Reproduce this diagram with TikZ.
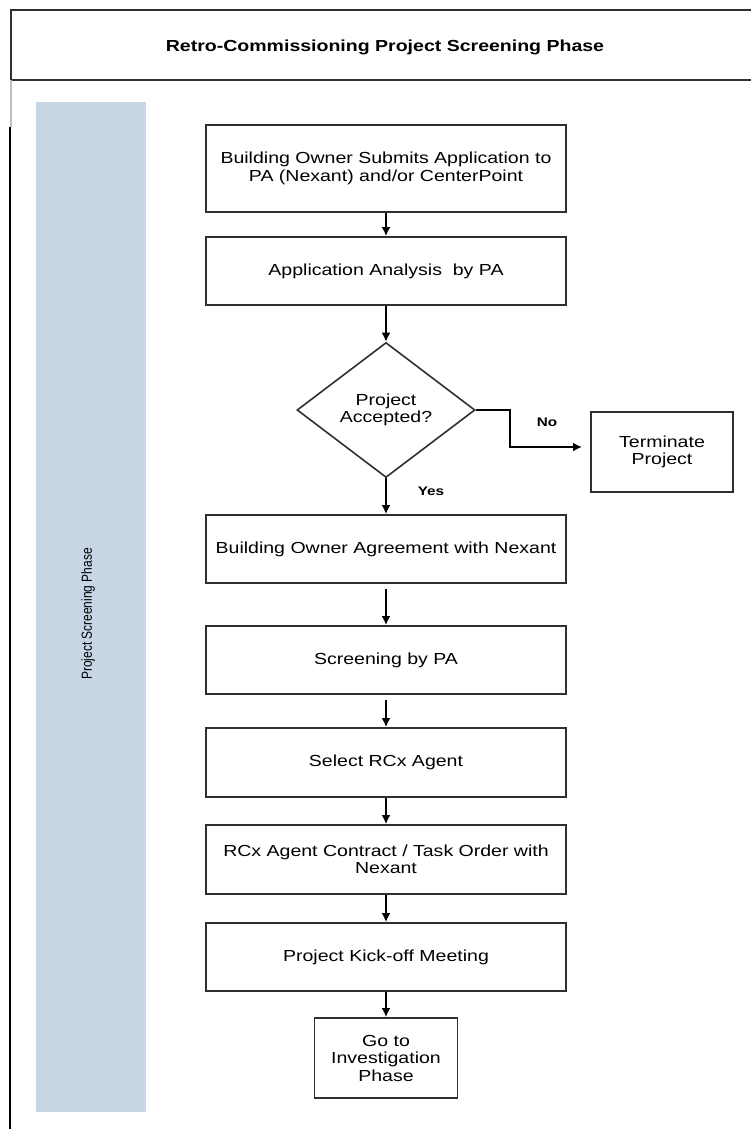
\documentclass[tikz,border=0pt]{standalone}
\usepackage{fontspec}
\setmainfont{Liberation Sans}[FakeStretch=1.22]
\newfontfamily\lanefont{Liberation Sans}[FakeStretch=0.82]
\usepackage{xcolor}
\usetikzlibrary{shapes.geometric,arrows.meta}
\definecolor{lanefill}{HTML}{C8D5E5}
\definecolor{linegray}{HTML}{303030}

\tikzset{
  stepbox/.style={draw=linegray, line width=1.8pt, minimum width=360pt, inner sep=2pt,
    align=center, font=\fontsize{16}{17.5}\selectfont},
  decision/.style={diamond, draw=linegray, line width=1.6pt, minimum width=178pt,
    minimum height=135pt, inner sep=0pt, align=center, font=\fontsize{16}{17.5}\selectfont},
  flow/.style={draw=black, line width=1.8pt, -{Latex[length=9pt,width=9pt]}},
  lbl/.style={font=\bfseries\fontsize{12.5}{14}\selectfont},
}

\begin{document}
\begin{tikzpicture}[x=1pt, y=-1pt]
  \useasboundingbox (0,0) rectangle (751,1129);
  % title strip and left border
  \draw[linegray, line width=1.8pt] (760,10) -- (11,10) -- (11,80) -- (760,80);
  \draw[gray!50, line width=1.8pt] (11,80) -- (11,127);
  \draw[black, line width=1.8pt] (10,127) -- (10,1135);
  \node[font=\bfseries\fontsize{16}{17}\selectfont] (title) at (385,47)
    {Retro-Commissioning Project Screening Phase};

  % swim lane
  \fill[lanefill] (36,102) rectangle (146,1112);
  \node[rotate=90, font=\lanefont\fontsize{14.6}{16}\selectfont] (lanelbl) at (88,614)
    {Project Screening Phase};

  % steps
  \node[stepbox, minimum height=87pt] (submit) at (386,168.5)
    {Building Owner Submits Application to\\PA (Nexant) and/or CenterPoint};
  \node[stepbox, minimum height=68pt] (analysis) at (386,271) {Application Analysis\ \ by PA};
  \node[decision] (accept) at (386,410) {Project\\Accepted?};
  \node[stepbox, minimum width=142pt, minimum height=80pt] (stop) at (662,452) {Terminate\\Project};
  \node[stepbox, minimum height=68pt] (agree) at (386,549) {Building Owner Agreement with Nexant};
  \node[stepbox, minimum height=68pt] (screen) at (386,660) {Screening by PA};
  \node[stepbox, minimum height=69pt] (select) at (386,762.5) {Select RCx Agent};
  \node[stepbox, minimum height=69pt] (contract) at (386,859.5)
    {RCx Agent Contract / Task Order with\\Nexant};
  \node[stepbox, minimum height=68pt] (kickoff) at (386,957) {Project Kick-off Meeting};
  \node[stepbox, minimum width=143pt, minimum height=80pt] (next) at (386,1058)
    {Go to\\Investigation\\Phase};

  % connectors
  \foreach \a/\b in {submit/analysis, analysis/accept, accept/agree, select/contract,
                     contract/kickoff, kickoff/next} {
    \draw[flow] (\a.south) -- (\b.north);
  }
  \foreach \a/\b in {agree/screen, screen/select} {
    \draw[flow, shorten <=5pt] (\a.south) -- (\b.north);
  }
  \coordinate (nohead) at (582,447);
  \draw[flow] (accept.east) -- (510,410) -- (510,447) -- (nohead);

  \node[lbl] (nolbl) at (547,422) {No};
  \node[lbl] (yeslbl) at (431,491) {Yes};
\end{tikzpicture}
\end{document}
